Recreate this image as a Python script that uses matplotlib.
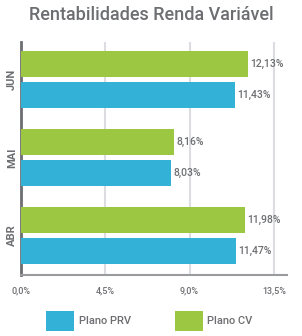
import matplotlib
matplotlib.use('Agg')
from matplotlib import pyplot as plt
from matplotlib.patches import Patch
import numpy as np

plt.rcParams['font.family'] = ['Roboto', 'DejaVu Sans']

months = ['ABR', 'MAI', 'JUN']
plano_prv = [11.47, 8.03, 11.43]
plano_cv = [11.98, 8.16, 12.13]
xticks = [0.0, 4.5, 9.0, 13.5]
xtick_labels = ['0,0%', '4,5%', '9,0%', '13,5%']

blue = '#33b1d6'
green = '#9cc743'
grey = '#6d6e71'

fig = plt.figure(figsize=(3.02, 3.36), dpi=100)
ax = fig.add_axes([21 / 302, 1 - 275 / 336, 266 / 302, 233 / 336])

y = np.arange(len(months))
h = 0.333
ax.barh(y - 0.2, plano_prv, height=h, color=blue, zorder=3)
ax.barh(y + 0.2, plano_cv, height=h, color=green, zorder=3)

for yi, v in zip(y - 0.2, plano_prv):
    ax.text(v + 0.12, yi, f'{v:.2f}%'.replace('.', ','), va='center', ha='left',
            fontsize=7.5, color=grey, fontweight='medium')
for yi, v in zip(y + 0.2, plano_cv):
    ax.text(v + 0.12, yi, f'{v:.2f}%'.replace('.', ','), va='center', ha='left',
            fontsize=7.5, color=grey, fontweight='medium')

ax.set_xlim(0, 14.2)
ax.set_ylim(-0.506, 2.48)
ax.set_xticks(xticks)
ax.set_xticklabels(xtick_labels, fontsize=6.5, color=grey, fontweight='medium')
ax.set_yticks(y)
ax.set_yticklabels(months, rotation=90, va='center', fontsize=8, color=grey, fontweight='bold')
ax.tick_params(axis='x', length=0, pad=8)
ax.tick_params(axis='y', length=0, pad=3)
for xt in xticks[1:]:
    ax.axvline(xt, color='#dcdde0', lw=1.5, zorder=1)

for s in ['top', 'right']:
    ax.spines[s].set_visible(False)
ax.spines['left'].set_color('#6d6e71')
ax.spines['left'].set_linewidth(2)
ax.spines['bottom'].set_color('#9a9b9e')
ax.spines['bottom'].set_linewidth(1.5)

fig.text(0.5, 1 - 15 / 336, 'Rentabilidades Renda Variável', ha='center', va='center',
         fontsize=13, color=grey, fontweight='medium')

handles = [Patch(facecolor=blue, label='Plano PRV'), Patch(facecolor=green, label='Plano CV')]
fig.legend(handles=handles, loc='center', bbox_to_anchor=(0.495, 1 - 321 / 336), ncol=2,
           frameon=False, prop={'size': 8, 'weight': 'medium'}, handlelength=2.5,
           handleheight=2.5, columnspacing=4.0, handletextpad=0.4, labelcolor=grey)

fig.savefig('out.png', dpi=100)
